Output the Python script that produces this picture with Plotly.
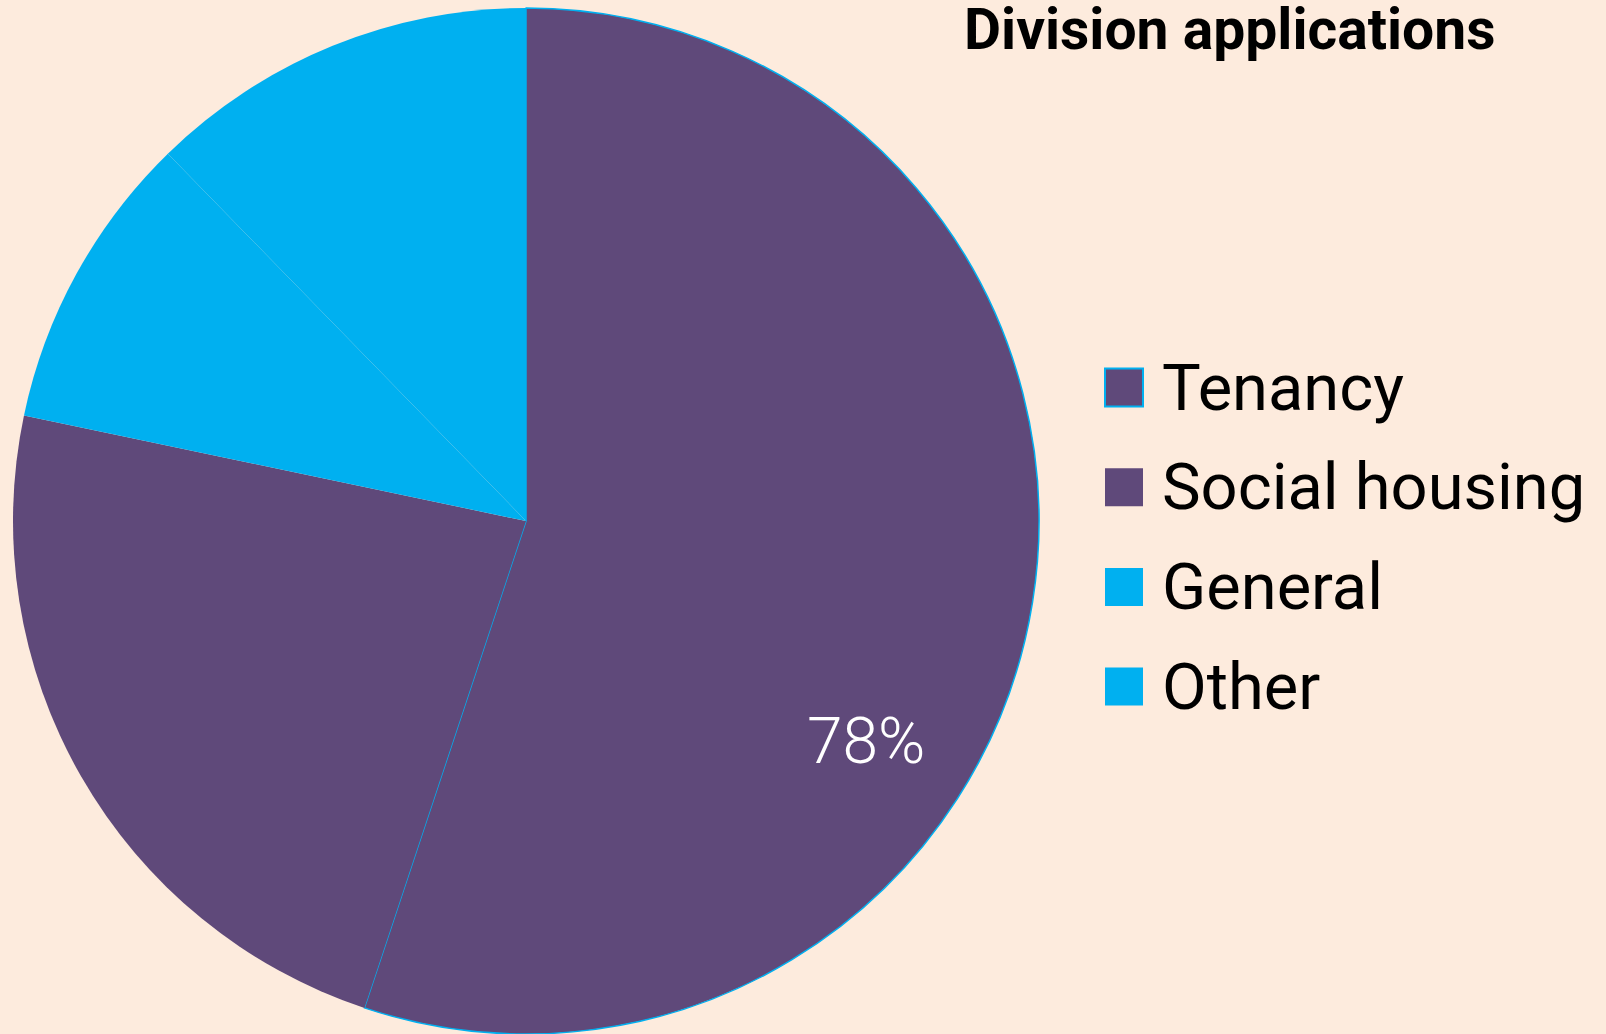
import plotly.graph_objects as go

labels = ["Tenancy", "Social housing", "General", "Other"]
values = [55.1, 23.2, 9.4, 12.3]
colors = ["#5F497A", "#5F497A", "#00B0F0", "#00B0F0"]
line_colors = ["#00B0F0", "#5F497A", "#00B0F0", "#00B0F0"]
line_widths = [1.5, 0, 0, 0]
title_text = "Division applications"
share_label = f"{round(values[0] + values[1])}%"

W, H = 1606, 1034
BG = "#FDEBDD"

fig = go.Figure()
fig.add_trace(go.Pie(
    labels=labels,
    values=values,
    sort=False,
    direction="clockwise",
    rotation=0,
    marker=dict(colors=colors, line=dict(color=line_colors, width=line_widths)),
    textinfo="none",
    hoverinfo="label+percent",
    showlegend=False,
    domain=dict(x=[12 / W, 1040 / W], y=[0.0, 1 - 8 / H]),
))

def py(p):
    return 1 - p / H

annotations = []
shapes = []
# title
annotations.append(dict(
    text="<b>" + title_text + "</b>", x=1230 / W, y=py(29), xref="paper", yref="paper",
    xanchor="center", yanchor="middle", showarrow=False,
    font=dict(family="Roboto", size=57, color="#000000"),
))
# in-slice label
annotations.append(dict(
    text=share_label, x=866 / W, y=py(741), xref="paper", yref="paper",
    xanchor="center", yanchor="middle", showarrow=False,
    font=dict(family="Roboto", size=64, color="#FFFFFF", weight=300),
))
# custom legend
for i, (lab, col) in enumerate(zip(labels, colors)):
    cy = 387.5 + i * 99.7
    shapes.append(dict(
        type="rect", xref="paper", yref="paper",
        x0=1105 / W, x1=1143 / W, y0=py(cy + 19), y1=py(cy - 19),
        fillcolor=col,
        line=dict(color=line_colors[i], width=2 if line_widths[i] > 0 else 0),
    ))
    annotations.append(dict(
        text=lab, x=1160 / W, y=py(cy), xref="paper", yref="paper",
        xanchor="left", yanchor="middle", showarrow=False,
        font=dict(family="Roboto", size=65, color="#000000"),
    ))

fig.update_layout(
    width=W, height=H,
    margin=dict(l=0, r=0, t=0, b=0),
    paper_bgcolor=BG, plot_bgcolor=BG,
    annotations=annotations, shapes=shapes,
    showlegend=False,
)
fig.write_html(
    "out.html",
    config={"displayModeBar": False},
    post_script="document.body.style.margin='0';document.body.style.padding='0';"
                "document.body.style.background='" + BG + "';",
)
